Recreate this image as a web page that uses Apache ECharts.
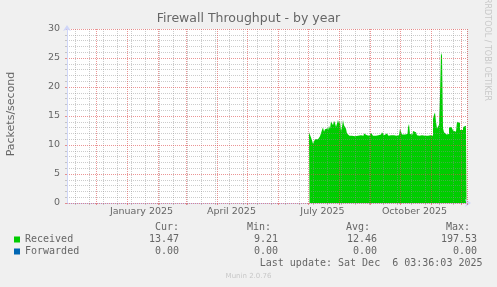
<!DOCTYPE html>
<html><head><meta charset="utf-8">
<script src="https://cdn.jsdelivr.net/npm/echarts@6/dist/echarts.min.js"></script>
<style>html,body{margin:0;padding:0;background:#F0F0F0;}#c{width:497px;height:287px;}</style>
</head><body><div id="c"></div>
<script>
// ---- data ----
const axisStart = '2024-11-02';
const axisDays = 400;
const dataStart = '2025-07-02';
const received = [
  12.2, 12.1, 11.3, 10.8, 10.2, 10.5, 11.0, 11.2, 11.0, 11.3,
  11.1, 11.5, 11.8, 12.6, 13.0, 12.3, 12.7, 12.4, 12.9, 12.5,
  13.3, 12.8, 14.1, 14.3, 13.4, 14.2, 13.8, 13.1, 12.9, 14.3,
  13.7, 14.2, 12.4, 13.1, 14.3, 13.4, 13.7, 12.8, 12.0, 11.7,
  11.6, 11.8, 11.7, 11.6, 11.7, 11.5, 11.7, 11.8, 11.6, 11.7,
  11.9, 11.7, 11.6, 11.7, 11.6, 12.0, 12.0, 11.7, 11.6, 11.7,
  11.6, 11.7, 12.1, 11.8, 11.6, 11.7, 11.6, 11.7, 11.6, 11.7,
  11.6, 11.7, 11.8, 12.2, 12.1, 11.7, 11.6, 12.0, 11.7, 11.6,
  11.7, 11.6, 11.7, 11.6, 11.7, 11.6, 11.7, 11.6, 11.7, 11.6,
  11.7, 12.8, 12.6, 11.8, 11.7, 11.8, 11.7, 11.8, 11.9, 13.0,
  13.6, 11.9, 11.8, 11.8, 12.4, 12.3, 12.2, 12.4, 11.7, 11.7,
  11.6, 11.7, 11.7, 11.9, 11.9, 11.6, 11.6, 11.7, 11.6, 11.6,
  11.6, 11.7, 11.6, 11.6, 14.5, 15.2, 15.6, 14.0, 12.8, 12.9,
  13.5, 18.5, 25.9, 25.4, 12.9, 12.2, 11.9, 11.8, 11.8, 11.9,
  13.0, 13.2, 13.1, 13.2, 12.5, 12.6, 12.3, 12.5, 14.0, 14.1,
  13.8, 12.6, 12.4, 12.6, 13.1, 13.2, 13.3, 13.2
];
const forwarded = [];
const yTicks = [0, 5, 10, 15, 20, 25, 30];
const labelDates = ['2025-01-15', '2025-04-15', '2025-07-15', '2025-10-15'];
const labelTexts = ['January 2025', 'April 2025', 'July 2025', 'October 2025'];
const minorGridStart = '2024-11-10';
const statHeaders = ['Cur:', 'Min:', 'Avg:', 'Max:'];
const receivedStats = ['13.47', '9.21', '12.46', '197.53'];
const forwardedStats = ['0.00', '0.00', '0.00', '0.00'];
const titleText = 'Firewall Throughput - by year';
const yName = 'Packets/second';
const lastUpdate = 'Last update: Sat Dec  6 03:36:03 2025';
const footer = 'Munin 2.0.76';
const sideText = 'RRDTOOL / TOBI OETIKER';

// ---- build ----
const dayMs = 86400000;
const t0 = Date.parse(axisStart + 'T00:00:00Z');
const days = [];
for (let i = 0; i < axisDays; i++) days.push(new Date(t0 + i * dayMs).toISOString().slice(0, 10));
const off = days.indexOf(dataStart);
const recvData = days.map((d, i) => (i >= off && i - off < received.length) ? received[i - off] : null);

const minorStart = Date.parse(minorGridStart + 'T00:00:00Z');
const majorFn = (i, v) => String(v).slice(8) === '01';
const minorFn = (i, v) => { const k = Math.round((Date.parse(v + 'T00:00:00Z') - minorStart) / dayMs); return k >= 0 && k % 14 === 0 && !majorFn(i, v); };
const labelFn = (i, v) => labelDates.indexOf(v) >= 0;

const minorColor = 'rgba(143,143,143,0.45)';
const majorColor = 'rgba(222,79,79,0.6)';
const axisColor = '#CFD6F8';
const txt = '#666666';
const mono = 'DejaVu Sans Mono';

const graphics = [];
const hdrX = [179, 271, 370, 470];
const valX = [179, 278, 377, 477];
statHeaders.forEach((h, k) => graphics.push({ type: 'text', x: hdrX[k], y: 227, style: { text: h, font: '10px ' + mono, fill: txt, align: 'right', verticalAlign: 'middle' } }));
receivedStats.forEach((h, k) => graphics.push({ type: 'text', x: valX[k], y: 239.5, style: { text: h, font: '10px ' + mono, fill: txt, align: 'right', verticalAlign: 'middle' } }));
forwardedStats.forEach((h, k) => graphics.push({ type: 'text', x: valX[k], y: 251.5, style: { text: h, font: '10px ' + mono, fill: txt, align: 'right', verticalAlign: 'middle' } }));
graphics.push({ type: 'text', x: 482.5, y: 263.5, style: { text: lastUpdate, font: '10px ' + mono, fill: txt, align: 'right', verticalAlign: 'middle' } });
graphics.push({ type: 'text', x: 248.5, y: 276, style: { text: footer, font: '7px DejaVu Sans', fill: '#C8C8C8', align: 'center', verticalAlign: 'middle' } });
graphics.push({ type: 'text', x: 487.5, y: 101, rotation: -Math.PI / 2, style: { text: sideText, font: '8px DejaVu Sans', fill: '#C8C8C8', align: 'right', verticalAlign: 'middle' } });
graphics.push({ type: 'text', x: 11, y: 114, rotation: Math.PI / 2, style: { text: yName, font: '11px DejaVu Sans', fill: txt, align: 'center', verticalAlign: 'middle' } });

const chart = echarts.init(document.getElementById('c'), null, { renderer: 'canvas' });
chart.setOption({
  animation: false,
  backgroundColor: '#F0F0F0',
  title: { text: titleText, left: 'center', top: 12.5, padding: 0, textStyle: { fontFamily: 'DejaVu Sans', fontSize: 12.5, fontWeight: 'normal', color: txt } },
  grid: { left: 67, top: 29, width: 400, height: 174, show: true, backgroundColor: '#FFFFFF', borderWidth: 0 },
  legend: { data: ['Received', 'Forwarded'], orient: 'vertical', left: 14, top: 233.5, padding: 0, itemWidth: 6, itemHeight: 6, itemGap: 0, icon: 'rect', selectedMode: false,
    textStyle: { fontFamily: mono, fontSize: 10, color: txt, lineHeight: 12 } },
  xAxis: [
    { type: 'category', data: days, boundaryGap: true, position: 'bottom', z: 5,
      axisLine: { show: true, lineStyle: { color: axisColor, width: 1 }, symbol: ['none', 'arrow'], symbolSize: [6, 6], symbolOffset: [0, 4] },
      axisTick: { show: true, interval: minorFn, length: 2, lineStyle: { color: minorColor } },
      splitLine: { show: true, interval: minorFn, lineStyle: { color: minorColor, type: [1, 1], width: 1 } },
      axisLabel: { interval: labelFn, formatter: v => labelTexts[labelDates.indexOf(v)], color: txt, fontFamily: 'DejaVu Sans', fontSize: 9.5, margin: 4 } },
    { type: 'category', data: days, boundaryGap: true, position: 'bottom', z: 6,
      axisLine: { show: false },
      axisTick: { show: true, interval: majorFn, length: 2, lineStyle: { color: majorColor } },
      splitLine: { show: true, interval: majorFn, lineStyle: { color: majorColor, type: [1, 1], width: 1 } },
      axisLabel: { show: false } }
  ],
  yAxis: [
    { type: 'value', min: yTicks[0], max: yTicks[yTicks.length - 1], interval: yTicks[1] - yTicks[0], position: 'left', z: 6,
      axisLine: { show: true, lineStyle: { color: axisColor, width: 1 }, symbol: ['none', 'arrow'], symbolSize: [6, 6], symbolOffset: [0, 4] },
      axisTick: { show: true, length: 2, lineStyle: { color: majorColor } },
      minorTick: { show: true, splitNumber: 5, length: 2, lineStyle: { color: minorColor } },
      splitLine: { show: true, lineStyle: { color: majorColor, type: [1, 1], width: 1 } },
      minorSplitLine: { show: true, lineStyle: { color: minorColor, type: [1, 1], width: 1 } },
      axisLabel: { color: txt, fontFamily: 'DejaVu Sans', fontSize: 9.5, margin: 7 } }
  ],
  series: [
    { name: 'Received', type: 'line', xAxisIndex: 0, yAxisIndex: 0, data: recvData, step: 'middle', showSymbol: false, symbol: 'none',
      lineStyle: { width: 0 }, areaStyle: { color: '#00CC00', opacity: 1 }, itemStyle: { color: '#00CC00' }, z: 2 },
    { name: 'Forwarded', type: 'line', xAxisIndex: 0, yAxisIndex: 0, data: forwarded, showSymbol: false, symbol: 'none',
      lineStyle: { width: 1, color: '#0066B3' }, itemStyle: { color: '#0066B3' }, z: 2 }
  ],
  graphic: graphics
});
</script></body></html>
